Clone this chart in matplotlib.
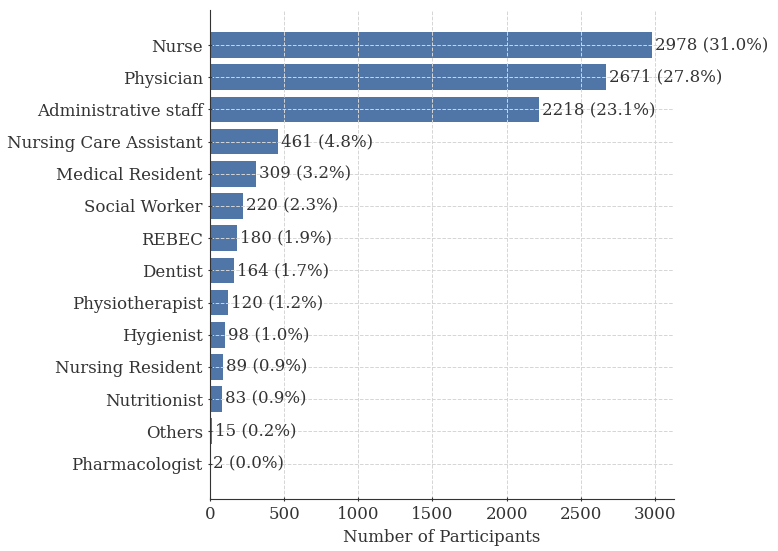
import matplotlib.pyplot as plt

roles = ["Nurse", "Physician", "Administrative staff", "Nursing Care Assistant",
         "Medical Resident", "Social Worker", "REBEC", "Dentist", "Physiotherapist",
         "Hygienist", "Nursing Resident", "Nutritionist", "Others", "Pharmacologist"]
counts = [2978, 2671, 2218, 461, 309, 220, 180, 164, 120, 98, 89, 83, 15, 2]
percents = [31.0, 27.8, 23.1, 4.8, 3.2, 2.3, 1.9, 1.7, 1.2, 1.0, 0.9, 0.9, 0.2, 0.0]

plt.rcParams['font.family'] = 'DejaVu Serif'
fig, ax = plt.subplots(figsize=(7.78, 5.51), dpi=100)
ax.barh(roles, counts, color='#4f76a7', height=0.8, zorder=2)
ax.invert_yaxis()
for i, (c, p) in enumerate(zip(counts, percents)):
    ax.text(c + 20, i, f"{c} ({p:.1f}%)", va='center', ha='left', fontsize=12, color='#333333', zorder=4)

ax.set_xlim(0, max(counts) * 1.05)
ax.grid(True, linestyle='--', color='#d5d5d5', linewidth=0.7, zorder=3)
ax.set_axisbelow(False)
for s in ['top', 'right']:
    ax.spines[s].set_visible(False)
for s in ['left', 'bottom']:
    ax.spines[s].set_color('#333333')
    ax.spines[s].set_zorder(5)
ax.tick_params(axis='both', labelsize=12, colors='#333333', direction='inout')
ax.set_xlabel("Number of Participants", fontsize=12, color='#333333')
fig.subplots_adjust(left=0.27, right=0.866, top=0.982, bottom=0.095)
fig.savefig("out.png")
